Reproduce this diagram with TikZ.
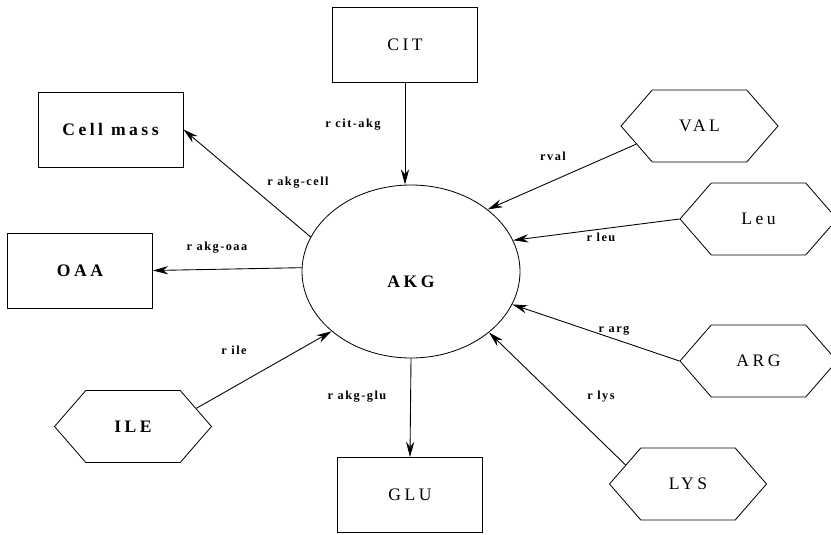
\documentclass[tikz,border=0pt]{standalone}
\usepackage{fontspec}
\setmainfont[LetterSpace=20]{Liberation Serif}
\newfontfamily\ratefont[LetterSpace=12]{Liberation Serif}
\usetikzlibrary{shapes.geometric,shapes.symbols,arrows.meta}

\begin{document}
\begin{tikzpicture}[x=0.03cm,y=-0.03cm,
            pool/.style={draw,line width=0.8pt,minimum width=4.35cm,minimum height=2.25cm,font=\fontsize{15}{18}\selectfont},
            feed/.style={draw,line width=0.7pt,signal,signal to=east and west,signal pointer angle=98,minimum width=4.71cm,minimum height=2.16cm,inner sep=0pt,font=\fontsize{15}{18}\selectfont},
            rate/.style={font=\ratefont\fontsize{10.5}{12}\selectfont\bfseries},
            flow/.style={line width=0.75pt,-{Stealth[length=13pt,width=7pt]}}]
            \useasboundingbox (0,0) rectangle (831,535);

            \node (akg) at (411,271.5) [ellipse,draw,line width=0.7pt,minimum width=6.54cm,minimum height=5.19cm,text height=27pt,text depth=0pt,font=\fontsize{15}{18}\selectfont\bfseries] {AKG};

            \node (cit) at (405,45) [pool] {CIT};
            \node (cell) at (110.5,129.5) [pool,font=\fontsize{15}{18}\selectfont\bfseries] {Cell mass};
            \node (oaa) at (80,270.5) [pool,font=\fontsize{15}{18}\selectfont\bfseries] {OAA};
            \node (glu) at (410,495) [pool] {GLU};

            \node (val) at (699.5,126) [feed] {VAL};
            \node (leu) at (758.5,219) [feed] {Leu};
            \node (arg) at (758.5,361) [feed] {ARG};
            \node (lys) at (688,484) [feed] {LYS};
            \node (ile) at (133,426.5) [feed,font=\fontsize{15}{18}\selectfont\bfseries] {ILE};

            \node (rcit) at (353,125) [rate] {r cit-akg};
            \node (rcell) at (298,183) [rate] {r akg-cell};
            \node (roaa) at (217,248) [rate] {r akg-oaa};
            \node (rile) at (234,350) [rate] {r ile};
            \node (rglu) at (357,397) [rate] {r akg-glu};
            \node (rval) at (553,156) [rate] {rval};
            \node (rleu) at (601,237) [rate] {r leu};
            \node (rarg) at (614,331) [rate] {r arg};
            \node (rlys) at (601,397) [rate] {r lys};

            \draw[flow] (cit.south) -- (cit.south |- akg.north);
            \draw[flow] (akg.161) -- (cell.east);
            \draw[flow] (akg.178) -- (oaa.east);
            \draw[flow] (akg.south) -- (glu.north);
            \draw[flow] (ile.16) -- (akg.217);
            \draw[flow] (val.196) -- (akg.39);
            \draw[flow] (leu.west) -- (akg.17);
            \draw[flow] (arg.west) -- (akg.342);
            \draw[flow] (lys.163) -- (akg.322);

        \end{tikzpicture}
\end{document}
